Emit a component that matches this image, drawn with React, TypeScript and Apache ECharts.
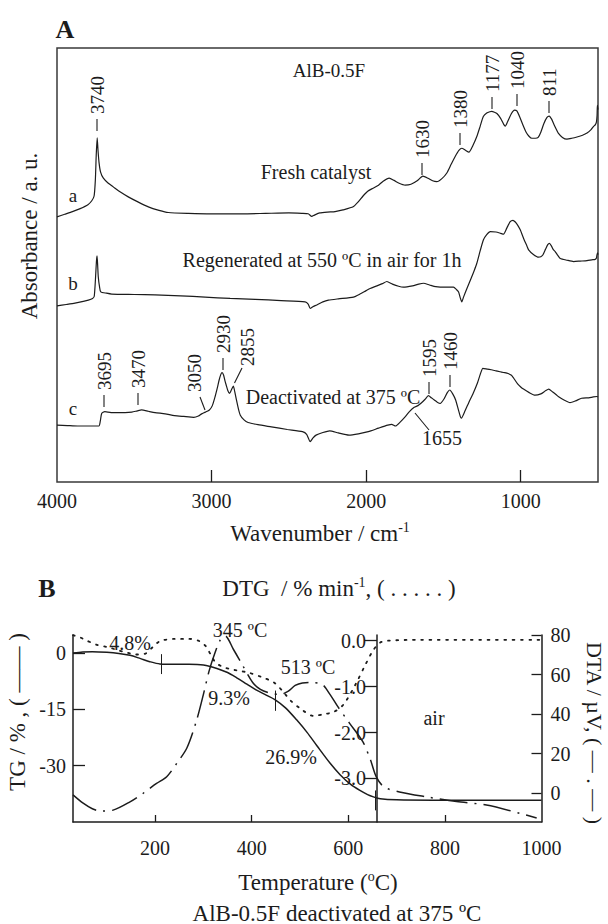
import React, { useEffect, useRef } from "react";
import * as echarts from "echarts";

const FONT = '"Liberation Serif", "Times New Roman", serif';
const INK = "#1c1c1c";

// ---------- Panel A: IR spectra (wavenumber cm-1, absorbance a.u.) ----------
const wnTicks = [3000, 2000, 1000];
const wnLabels = [4000, 3000, 2000, 1000];

const spectrumFresh: [number, number][] = [
  [4000, 61.1], [3950, 61.7], [3900, 62.3], [3850, 63.0], [3800, 63.9], [3775, 64.8], [3760, 65.9],
  [3752, 69.5], [3746, 75.5], [3740, 79.3], [3735, 76.6], [3728, 73.6], [3718, 71.4], [3700, 70.0],
  [3670, 68.9], [3636, 68.0], [3590, 66.8], [3539, 65.7], [3480, 64.6], [3409, 63.4], [3340, 62.6],
  [3280, 62.1], [3150, 61.9], [3000, 61.8], [2935, 61.8], [2800, 61.8], [2650, 61.9], [2500, 62.0],
  [2416, 61.9], [2375, 61.8], [2352, 61.2], [2335, 61.5], [2300, 62.0], [2250, 62.2], [2201, 62.3],
  [2150, 62.7], [2084, 63.4], [2050, 64.6], [2020, 65.9], [1990, 67.0], [1955, 67.7], [1920, 68.4],
  [1890, 69.3], [1851, 70.0], [1820, 69.5], [1790, 68.9], [1748, 68.4], [1710, 68.6], [1670, 69.4],
  [1633, 70.5], [1600, 70.0], [1570, 69.4], [1543, 69.2], [1510, 69.9], [1478, 71.2], [1450, 73.2],
  [1424, 75.0], [1400, 76.4], [1381, 76.9], [1360, 76.5], [1335, 76.0], [1310, 77.5], [1284, 79.6],
  [1262, 82.0], [1242, 84.2], [1220, 85.0], [1200, 85.3], [1187, 85.4], [1170, 85.2], [1154, 84.9],
  [1130, 83.8], [1110, 82.4], [1100, 82.0], [1085, 83.0], [1060, 84.9], [1040, 85.7], [1025, 85.5],
  [1005, 84.0], [985, 82.2], [965, 80.6], [945, 79.6], [928, 79.2], [905, 79.2], [887, 79.4],
  [870, 80.6], [850, 82.6], [830, 84.0], [816, 84.3], [800, 83.6], [785, 82.4], [770, 81.3],
  [757, 80.4], [730, 79.4], [701, 79.0], [670, 79.2], [636, 79.5], [600, 79.9], [571, 80.4],
  [545, 81.2], [530, 81.9], [518, 82.3], [510, 83.0], [506, 84.5], [504, 86.8], [502, 86.2], [500, 85.8],
];

const spectrumRegen: [number, number][] = [
  [4000, 40.6], [3940, 40.9], [3884, 41.2], [3830, 41.6], [3797, 41.9], [3770, 42.3], [3759, 42.8],
  [3750, 47.5], [3745, 50.8], [3741, 52.1], [3737, 50.0], [3733, 47.3], [3725, 45.0], [3717, 43.8],
  [3680, 43.5], [3646, 43.3], [3500, 43.2], [3366, 43.1], [3200, 42.9], [3042, 42.6], [2880, 42.3],
  [2718, 42.1], [2550, 41.8], [2395, 41.5], [2375, 41.0], [2362, 40.0], [2345, 40.4], [2319, 40.8],
  [2280, 41.5], [2244, 41.9], [2180, 42.2], [2082, 42.6], [2040, 43.3], [2000, 44.1], [1974, 44.6],
  [1930, 45.2], [1895, 45.7], [1866, 46.2], [1830, 45.6], [1790, 45.1], [1759, 44.9], [1700, 45.2],
  [1660, 45.6], [1629, 45.8], [1590, 45.4], [1550, 45.0], [1521, 44.9], [1470, 44.9], [1435, 44.9],
  [1415, 44.3], [1402, 43.8], [1390, 42.3], [1381, 41.5], [1370, 42.6], [1348, 44.6], [1320, 47.0],
  [1300, 48.8], [1284, 50.4], [1262, 53.3], [1241, 55.8], [1220, 57.0], [1197, 57.7], [1160, 57.6],
  [1130, 57.3], [1111, 57.1], [1090, 58.5], [1068, 60.0], [1050, 60.3], [1035, 59.9], [1020, 59.2],
  [1003, 58.1], [980, 56.0], [960, 54.4], [949, 53.5], [920, 52.5], [885, 51.8], [870, 51.9],
  [857, 52.3], [840, 53.6], [825, 54.7], [814, 55.0], [800, 54.3], [790, 53.6], [777, 53.1],
  [760, 52.2], [744, 51.5], [700, 51.1], [658, 50.8], [615, 50.9], [571, 51.0], [540, 51.2],
  [518, 51.3], [510, 51.6], [507, 52.3], [503, 52.8], [500, 52.4],
];

const spectrumDeact: [number, number][] = [
  [4000, 13.1], [3933, 13.0], [3867, 12.9], [3800, 12.9], [3729, 12.9], [3720, 14.0], [3711, 15.8],
  [3691, 16.2], [3650, 16.0], [3616, 16.0], [3560, 16.0], [3516, 16.1], [3480, 16.4], [3453, 16.6],
  [3410, 16.3], [3366, 16.0], [3300, 15.7], [3240, 15.3], [3180, 15.1], [3115, 14.9], [3085, 15.2],
  [3064, 15.7], [3040, 16.1], [3014, 16.6], [2995, 17.6], [2977, 19.7], [2962, 21.8], [2951, 23.5],
  [2940, 24.8], [2932, 25.2], [2922, 24.6], [2914, 23.4], [2906, 22.4], [2895, 21.1], [2884, 20.4],
  [2872, 21.2], [2859, 22.1], [2850, 20.8], [2839, 18.9], [2826, 16.8], [2814, 15.4], [2790, 14.3],
  [2764, 13.7], [2700, 13.2], [2613, 12.7], [2510, 12.1], [2412, 11.6], [2385, 11.0], [2362, 9.3],
  [2345, 10.1], [2324, 10.8], [2280, 11.4], [2236, 11.8], [2180, 11.3], [2111, 10.8], [2050, 11.1],
  [1986, 11.6], [1920, 12.4], [1860, 13.1], [1835, 13.3], [1810, 12.9], [1780, 13.8], [1748, 15.0],
  [1720, 16.2], [1689, 17.2], [1665, 17.6], [1647, 18.1], [1620, 19.0], [1597, 19.9], [1578, 19.4],
  [1559, 18.9], [1540, 18.4], [1521, 18.1], [1495, 19.2], [1475, 20.6], [1459, 21.2], [1440, 20.3],
  [1421, 18.9], [1403, 16.6], [1390, 15.0], [1384, 14.7], [1360, 16.4], [1335, 18.4], [1308, 20.4],
  [1280, 22.8], [1260, 25.0], [1245, 26.2], [1215, 26.0], [1183, 25.8], [1160, 25.6], [1133, 25.4],
  [1105, 25.2], [1082, 25.0], [1060, 24.6], [1045, 23.9], [1020, 22.6], [1000, 21.9], [982, 21.4],
  [945, 20.6], [907, 20.0], [870, 20.3], [840, 21.0], [819, 21.4], [795, 20.8], [770, 20.1],
  [757, 19.7], [720, 18.9], [681, 18.3], [645, 18.7], [606, 19.3], [560, 19.4], [530, 19.6],
  [506, 19.7], [500, 19.6],
];

// ---------- Panel B: thermal analysis (temperature ºC) ----------
const tempTicks = [200, 400, 600, 800];
const tempLabels = [200, 400, 600, 800, 1000];
const tgTicks = [-30, -15, 0];
const dtgTicks = [-3, -2, -1, 0];
const dtaTicks = [0, 20, 40, 60, 80];

// TG, % (solid)
const tgCurve: [number, number][] = [
  [30, 0.0], [50, 0.3], [70, 0.35], [100, 0.2], [125, -0.1], [148, -0.6], [170, -1.5], [189, -2.3],
  [210, -2.9], [240, -3.0], [270, -3.0], [300, -3.2], [328, -4.1], [350, -5.2], [369, -6.6],
  [390, -8.3], [410, -9.9], [430, -11.2], [448, -12.4], [470, -14.6], [493, -17.8], [515, -21.2],
  [535, -24.7], [562, -29.3], [583, -32.4], [605, -35.0], [624, -36.6], [640, -37.7], [652, -38.3],
  [666, -38.8], [700, -39.1], [775, -39.2], [1000, -39.2],
];

// step markers on the TG curve: [temperature, from %, to %]
const tgStepMarks: [number, number, number][] = [
  [212, -0.3, -5.6],
  [448, -10.0, -15.4],
  [655, -36.6, -41.9],
];

// DTG, % min-1 (dotted)
const dtgCurve: [number, number][] = [
  [30, 0.12], [45, 0.07], [59, 0.0], [80, -0.09], [102, -0.14], [121, -0.2], [142, -0.26],
  [160, -0.3], [180, -0.28], [195, -0.14], [210, -0.01], [240, 0.04], [270, 0.04], [290, 0.0],
  [305, -0.12], [315, -0.3], [325, -0.47], [340, -0.57], [357, -0.62], [375, -0.66], [392, -0.69],
  [420, -0.79], [446, -0.91], [465, -1.11], [481, -1.31], [501, -1.48], [528, -1.64], [549, -1.6],
  [570, -1.55], [590, -1.39], [615, -0.95], [636, -0.51], [652, -0.2], [666, -0.04], [681, 0.0],
  [750, 0.02], [850, 0.02], [1000, 0.02],
];

// DTA, µV (dash-dot)
const dtaCurve: [number, number][] = [
  [30, -0.8], [51, -5.0], [70, -7.8], [88, -9.0], [113, -8.5], [148, -4.3], [175, 0], [203, 5.0],
  [224, 8.4], [245, 15.2], [266, 23.0], [286, 37.0], [300, 50.0], [312, 62.0], [324, 71.0],
  [335, 77.5], [345, 79.5], [362, 72.8], [382, 64.3], [402, 56.0], [418, 52.5], [434, 50.9],
  [458, 49.9], [475, 51.5], [490, 54.5], [505, 55.8], [522, 56.0], [546, 55.0], [562, 50.0],
  [578, 43.9], [602, 35.6], [630, 26.1], [646, 16.8], [658, 8.3], [674, 3.2], [706, 0.7],
  [762, -1.8], [824, -4.2], [886, -5.9], [955, -10.1], [990, -12.5],
];

const axisText = { fontFamily: FONT, fontSize: 20, color: INK };
const plain = (v: number) => String(v);

function text(
  t: string,
  x: number,
  y: number,
  size: number,
  extra: Record<string, any> = {}
) {
  const { rotation = 0, bold = false, align = "center", rich } = extra;
  return {
    type: "text",
    x,
    y,
    rotation,
    silent: true,
    z: 10,
    style: {
      text: t,
      fontFamily: FONT,
      fontSize: size,
      fontWeight: bold ? "bold" : "normal",
      fill: INK,
      align,
      verticalAlign: "middle",
      lineHeight: size + 3,
      rich,
    },
  };
}

function leader(x1: number, y1: number, x2: number, y2: number) {
  return {
    type: "line",
    silent: true,
    z: 10,
    shape: { x1, y1, x2, y2 },
    style: { stroke: INK, lineWidth: 1.1 },
  };
}

const sup = (size: number) => ({
  s: { fontFamily: FONT, fontSize: size, lineHeight: size, verticalAlign: "top", fill: INK },
});

// rotated peak labels: [label, x, bottom y, has tick]
const peakLabels: [string, number, number, boolean][] = [
  ["3740", 97, 131, true],
  ["1630", 422, 175, true],
  ["1380", 460, 145, true],
  ["1177", 492, 109, true],
  ["1040", 517, 106, true],
  ["811", 549, 113, true],
  ["3695", 104, 407, true],
  ["3470", 138, 405, true],
  ["3050", 194, 392, false],
  ["2930", 223, 370, true],
  ["2855", 247, 366, false],
  ["1595", 429, 394, true],
  ["1460", 450, 387, true],
];

function buildGraphic() {
  const g: any[] = [];
  // Panel A
  g.push(text("A", 65, 29, 26, { bold: true }));
  g.push(text("Absorbance / a. u.", 29, 236, 23, { rotation: Math.PI / 2 }));
  g.push(text("Wavenumber / cm{s|-1}", 320, 533, 23, { rich: sup(14) }));
  g.push(text("AlB-0.5F", 329, 70, 19));
  g.push(text("Fresh catalyst", 316, 172, 20));
  g.push(text("Regenerated at 550 ºC in air for 1h", 322, 260, 20));
  g.push(text("Deactivated at 375 ºC", 333, 397, 20));
  g.push(text("a", 73, 195, 19));
  g.push(text("b", 73, 283, 19));
  g.push(text("c", 73, 408, 19));
  g.push(text("1655", 442, 438, 20));
  peakLabels.forEach(([t, x, y, tick]) => {
    if (tick) {
      g.push(leader(x, y, x, y - 12));
      g.push(text(t, x, y - 17, 19, { rotation: Math.PI / 2, align: "left" }));
    } else {
      g.push(text(t, x, y, 19, { rotation: Math.PI / 2, align: "left" }));
    }
  });
  g.push(leader(200, 397, 205, 410));
  g.push(leader(242, 368, 234.5, 383));
  g.push(leader(415, 413, 429, 430));

  // Panel B
  g.push(text("B", 47, 588, 26, { bold: true }));
  g.push(text("DTG  / % min{s|-1}, ( . . . . . )", 339, 588, 23, { rich: sup(14) }));
  g.push(text("TG / % , ( —— )", 17, 712, 23, { rotation: Math.PI / 2 }));
  g.push(text("DTA / µV, ( — . — )", 594, 733, 22, { rotation: -Math.PI / 2 }));
  g.push(text("Temperature ({s|o}C)", 318, 882, 23, { rich: sup(14) }));
  g.push(text("AlB-0.5F deactivated at 375 ºC", 337, 913, 23));
  g.push(text("4.8%", 130, 643, 20));
  g.push(text("345 ºC", 240, 630, 20));
  g.push(text("513 ºC", 308, 667, 20));
  g.push(text("9.3%", 229, 698, 20));
  g.push(text("26.9%", 291, 757, 20));
  g.push(text("air", 434, 718, 20));
  return g;
}

const lineBase = {
  type: "line",
  showSymbol: false,
  symbol: "none",
  silent: true,
  clip: true,
};

function buildOption(): any {
  return {
    animation: false,
    grid: [
      {
        left: 57, top: 48, width: 541, height: 434,
        show: true, borderColor: "#3a3a3a", borderWidth: 1.5, backgroundColor: "transparent",
        containLabel: false, outerBoundsMode: "none",
      },
      {
        left: 73, top: 635, width: 468.5, height: 187,
        show: false, containLabel: false, outerBoundsMode: "none",
      },
    ],
    xAxis: [
      {
        type: "value", gridIndex: 0, min: 500, max: 4000, inverse: true,
        axisLine: { show: false, onZero: false },
        axisTick: { show: true, inside: true, length: 12, customValues: wnTicks, lineStyle: { color: INK, width: 1.3 } },
        axisLabel: { ...axisText, customValues: wnLabels, margin: 9, formatter: plain },
        splitLine: { show: false },
      },
      {
        type: "value", gridIndex: 1, min: 30, max: 1000,
        axisLine: { show: true, onZero: false, lineStyle: { color: INK, width: 1.5 } },
        axisTick: { show: true, inside: true, length: 7, customValues: tempTicks, lineStyle: { color: INK, width: 1.3 } },
        axisLabel: { ...axisText, customValues: tempLabels, margin: 16, formatter: plain },
        splitLine: { show: false },
      },
    ],
    yAxis: [
      { type: "value", gridIndex: 0, min: 0, max: 100, show: false },
      {
        type: "value", gridIndex: 1, position: "left", min: -45, max: 4.8,
        axisLine: { show: true, onZero: false, lineStyle: { color: INK, width: 1.5 } },
        axisTick: { show: true, inside: true, length: 12, customValues: tgTicks, lineStyle: { color: INK, width: 1.3 } },
        axisLabel: { ...axisText, customValues: tgTicks, margin: 7, formatter: plain },
        splitLine: { show: false },
      },
      {
        type: "value", gridIndex: 1, position: "left", offset: -304, min: -3.95, max: 0.125,
        axisLine: { show: true, onZero: false, lineStyle: { color: INK, width: 1.5 } },
        axisTick: { show: true, inside: false, length: 13, customValues: dtgTicks, lineStyle: { color: INK, width: 1.3 } },
        axisLabel: { ...axisText, customValues: dtgTicks, margin: 11, formatter: (v: number) => v.toFixed(1) },
        splitLine: { show: false },
      },
      {
        type: "value", gridIndex: 1, position: "right", min: -14.5, max: 80,
        axisLine: { show: true, onZero: false, lineStyle: { color: INK, width: 1.5 } },
        axisTick: { show: true, inside: true, length: 10, customValues: dtaTicks, lineStyle: { color: INK, width: 1.3 } },
        axisLabel: { ...axisText, customValues: dtaTicks, margin: 9, formatter: plain },
        splitLine: { show: false },
      },
    ],
    series: [
      { ...lineBase, name: "Fresh catalyst", xAxisIndex: 0, yAxisIndex: 0, data: spectrumFresh, smooth: 0.2,
        lineStyle: { color: INK, width: 1.2 } },
      { ...lineBase, name: "Regenerated", xAxisIndex: 0, yAxisIndex: 0, data: spectrumRegen, smooth: 0.2,
        lineStyle: { color: INK, width: 1.2 } },
      { ...lineBase, name: "Deactivated", xAxisIndex: 0, yAxisIndex: 0, data: spectrumDeact, smooth: 0.2,
        lineStyle: { color: INK, width: 1.2 } },
      {
        ...lineBase, name: "TG", xAxisIndex: 1, yAxisIndex: 1, data: tgCurve, smooth: 0.3,
        lineStyle: { color: INK, width: 1.5 },
        markLine: {
          silent: true, symbol: ["none", "none"], label: { show: false },
          lineStyle: { color: INK, width: 1, type: "solid" },
          data: tgStepMarks.map(([t, a, b]) => [{ coord: [t, a] }, { coord: [t, b] }]),
        },
      },
      { ...lineBase, name: "DTG", xAxisIndex: 1, yAxisIndex: 2, data: dtgCurve, smooth: 0.3,
        lineStyle: { color: INK, width: 1.8, type: [1.8, 6.5], cap: "round" } },
      { ...lineBase, name: "DTA", xAxisIndex: 1, yAxisIndex: 3, data: dtaCurve, smooth: 0.3,
        lineStyle: { color: INK, width: 1.5, type: [28, 7, 2, 7] } },
    ],
    graphic: buildGraphic(),
  };
}

export default function App() {
  const ref = useRef<HTMLDivElement>(null);
  useEffect(() => {
    document.body.style.margin = "0";
    const chart = echarts.init(ref.current as HTMLDivElement, undefined, { renderer: "svg" });
    chart.setOption(buildOption());
    return () => chart.dispose();
  }, []);
  return <div ref={ref} style={{ width: 608, height: 924, background: "#fff" }} />;
}
